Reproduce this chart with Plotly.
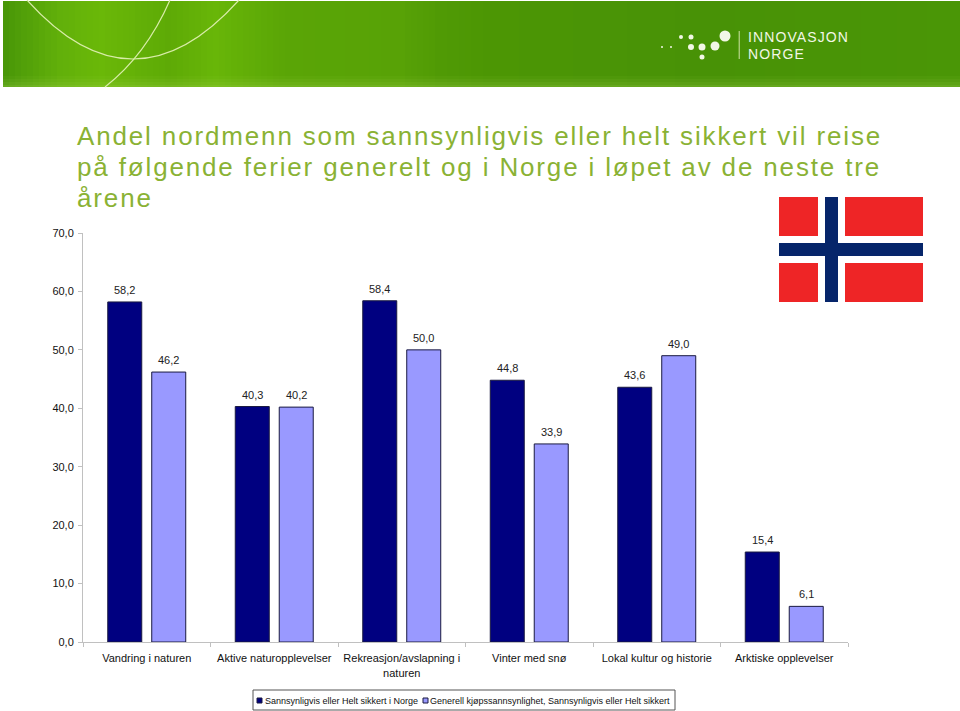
import plotly.graph_objects as go

categories = ["Vandring i naturen", "Aktive naturopplevelser", "Rekreasjon/avslapning i<br>naturen",
              "Vinter med snø", "Lokal kultur og historie", "Arktiske opplevelser"]
series_norge = [58.2, 40.3, 58.4, 44.8, 43.6, 15.4]
series_generell = [46.2, 40.2, 50.0, 33.9, 49.0, 6.1]
name_norge = "Sannsynligvis eller Helt sikkert i Norge"
name_generell = "Generell kjøpssannsynlighet, Sannsynligvis eller Helt sikkert"
title_lines = ["Andel nordmenn som sannsynligvis eller helt sikkert vil reise",
               "på følgende ferier generelt og i Norge i løpet av de neste tre",
               "årene"]
W, H = 960, 711
L, R, T, B = 83, 848, 233, 642
FONT = "Liberation Sans"
NAVY, LILAC, EDGE = "#000080", "#9999ff", "#1a1a40"

def px(x): return (x - L) / (R - L)
def py(y): return (B - y) / (B - T)

shapes, annos = [], []
def rect(x0, y0, x1, y1, color, line=None):
    shapes.append(dict(type="rect", xref="paper", yref="paper", x0=px(x0), x1=px(x1), y0=py(y0), y1=py(y1),
                       fillcolor=color, line=dict(color=line, width=1) if line else dict(width=0), layer="below"))
def circle(cx, cy, r, color="#f2f7e6"):
    shapes.append(dict(type="circle", xref="paper", yref="paper", x0=px(cx-r), x1=px(cx+r), y0=py(cy-r), y1=py(cy+r),
                       fillcolor=color, line_width=0, layer="below"))
def curve(p0, c, p1, color="#d8eca8", width=1.2):
    d = "M %f %f Q %f %f %f %f" % (px(p0[0]), py(p0[1]), px(c[0]), py(c[1]), px(p1[0]), py(p1[1]))
    shapes.append(dict(type="path", xref="paper", yref="paper", path=d, line=dict(color=color, width=width), layer="below"))
def label(x, y, text, size, color, **kw):
    annos.append(dict(xref="paper", yref="paper", x=px(x - 2), y=py(y), text=text, showarrow=False, xanchor="left",
                      yanchor="middle", align="left", font=dict(family=FONT, size=size, color=color), **kw))

# header gradient
stops = [(3, (72,150,8)), (60, (98,176,10)), (100, (106,184,8)), (170, (94,170,6)), (215, (104,182,8)), (285,(90,165,6)),
         (400, (88,162,6)), (440,(80,154,5)), (490, (76,150,4)),(600, (74,148,6)),(700,(72,146,6)),(960,(74,150,6))]
def grad(x):
    for (a, ca), (b, cb) in zip(stops, stops[1:]):
        if a <= x <= b:
            t = (x-a)/(b-a)
            return "rgb(%d,%d,%d)" % tuple(round(ca[i]+(cb[i]-ca[i])*t) for i in range(3))
    return "rgb(74,150,6)"
for x in range(3, 960, 6):
    rect(x, 1, min(x+6.5, 960), 87, grad(x+3))
for i, (y, a) in enumerate([(76, .06), (79, .12), (82, .2), (85, .3)]):
    rect(3, y, 960, 87 if i == 3 else y+3, "rgba(170,215,90,%.2f)" % a)
curve((27, 0), (133, 118), (239, 0))
curve((170, 0), (146, 55), (105, 87))

# logo
for c in [(662, 47, 1), (671, 47, 1), (681, 37, 2), (691, 37, 2.5), (691, 47, 3), (702, 47, 3.5), (715, 46, 4.5), (725, 36, 5.5), (702, 57, 2.5)]:
    circle(*c)
rect(738.7, 31, 739.7, 59, "#cfe3a5")
label(748, 37, "INNOVASJON", 14, "#f2f7e6")
label(748, 54, "NORGE", 14, "#f2f7e6")

# flag
RED, BLUE = "#ee2526", "#06256a"
rect(779, 197, 818, 236, RED); rect(845, 197, 923, 236, RED)
rect(779, 263, 818, 302, RED); rect(845, 263, 923, 302, RED)
rect(825, 197, 838, 302, BLUE); rect(779, 243, 923, 256, BLUE)

# title
for line, y in zip(title_lines, [136, 167, 198]):
    label(77, y, line, 26, "#8ab234")

# legend
rect(253, 690, 675, 710, "white", "#555")
rect(257, 698, 262, 703, NAVY, EDGE)
rect(423, 698, 428, 703, LILAC, EDGE)
label(265, 700.5, name_norge, 9, "#111")
label(430, 700.5, name_generell, 9, "#111")

fig = go.Figure()
fig.add_bar(name=name_norge, x=categories, y=series_norge, marker=dict(color=NAVY, line=dict(color=EDGE, width=1)))
fig.add_bar(name=name_generell, x=categories, y=series_generell, marker=dict(color=LILAC, line=dict(color=EDGE, width=1)))

# data labels, placed from the series values
for values, shift in [(series_norge, -22), (series_generell, 22)]:
    for cat, v in zip(categories, values):
        annos.append(dict(xref="x", yref="y", x=cat, y=v, text=f"{v:.1f}".replace(".", ","), showarrow=False,
                          xshift=shift, yshift=12, yanchor="middle", font=dict(family=FONT, size=11, color="#222")))

fig.update_layout(
    width=W, height=H, autosize=False, paper_bgcolor="white", plot_bgcolor="white",
    margin=dict(l=L, r=W-R, t=T, b=H-B, pad=0),
    barmode="group", bargap=0.31, bargroupgap=0.227, separators=",.",
    font=dict(family=FONT, size=11, color="#111"), showlegend=False,
    xaxis=dict(showline=True, linecolor="#c0c0c0", linewidth=1, ticks="outside", tickson="boundaries", tickcolor="#c0c0c0",
               ticklen=4, showgrid=False, tickfont=dict(size=11), tickangle=0, automargin=False, ticklabelstandoff=6),
    yaxis=dict(range=[0, 70], dtick=10, tickformat=".1f", showline=True, linecolor="#c0c0c0", linewidth=1, ticks="outside",
               tickcolor="#c0c0c0", ticklen=4, showgrid=False, zeroline=False, tickfont=dict(size=11), automargin=False,
               ticklabelstandoff=2),
    shapes=shapes, annotations=annos,
)
post = """
document.body.style.margin = '0';
document.querySelectorAll('.annotation-text').forEach(function (t) {
  var s = t.style.fontSize;
  if (s === '26px') t.style.letterSpacing = '1.85px';
  if (s === '14px') t.style.letterSpacing = '1.1px';
});
"""
fig.write_html("out.html", post_script=post, config={"displayModeBar": False})
